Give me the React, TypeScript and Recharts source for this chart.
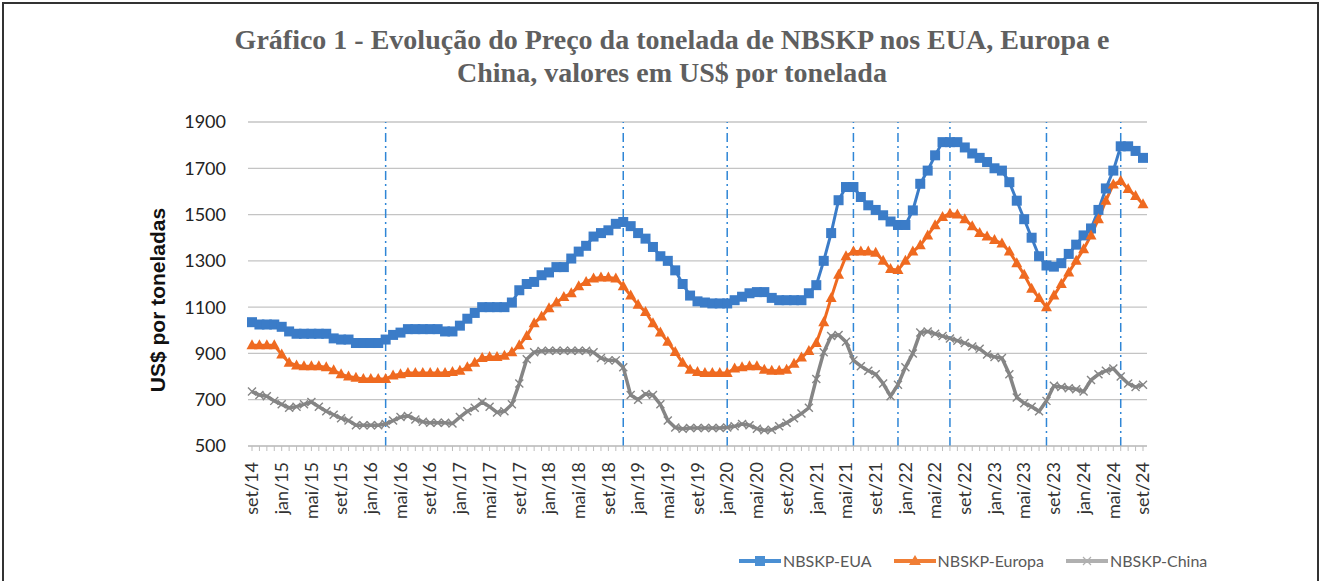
import React from 'react';
import { LineChart, Line, XAxis, YAxis, CartesianGrid, ReferenceLine } from 'recharts';

// meses de set/14 a set/24
const months = [
  'set/14', 'out/14', 'nov/14', 'dez/14',
  'jan/15', 'fev/15', 'mar/15', 'abr/15', 'mai/15', 'jun/15', 'jul/15', 'ago/15', 'set/15', 'out/15', 'nov/15', 'dez/15',
  'jan/16', 'fev/16', 'mar/16', 'abr/16', 'mai/16', 'jun/16', 'jul/16', 'ago/16', 'set/16', 'out/16', 'nov/16', 'dez/16',
  'jan/17', 'fev/17', 'mar/17', 'abr/17', 'mai/17', 'jun/17', 'jul/17', 'ago/17', 'set/17', 'out/17', 'nov/17', 'dez/17',
  'jan/18', 'fev/18', 'mar/18', 'abr/18', 'mai/18', 'jun/18', 'jul/18', 'ago/18', 'set/18', 'out/18', 'nov/18', 'dez/18',
  'jan/19', 'fev/19', 'mar/19', 'abr/19', 'mai/19', 'jun/19', 'jul/19', 'ago/19', 'set/19', 'out/19', 'nov/19', 'dez/19',
  'jan/20', 'fev/20', 'mar/20', 'abr/20', 'mai/20', 'jun/20', 'jul/20', 'ago/20', 'set/20', 'out/20', 'nov/20', 'dez/20',
  'jan/21', 'fev/21', 'mar/21', 'abr/21', 'mai/21', 'jun/21', 'jul/21', 'ago/21', 'set/21', 'out/21', 'nov/21', 'dez/21',
  'jan/22', 'fev/22', 'mar/22', 'abr/22', 'mai/22', 'jun/22', 'jul/22', 'ago/22', 'set/22', 'out/22', 'nov/22', 'dez/22',
  'jan/23', 'fev/23', 'mar/23', 'abr/23', 'mai/23', 'jun/23', 'jul/23', 'ago/23', 'set/23', 'out/23', 'nov/23', 'dez/23',
  'jan/24', 'fev/24', 'mar/24', 'abr/24', 'mai/24', 'jun/24', 'jul/24', 'ago/24', 'set/24',
];

const eua = [
  1035, 1025, 1025, 1025,
  1015, 995, 985, 985, 985, 985, 985, 965, 960, 960, 945, 945,
  945, 945, 960, 980, 990, 1005, 1005, 1005, 1005, 1005, 995, 995,
  1020, 1050, 1075, 1100, 1100, 1100, 1100, 1120, 1173, 1200, 1209, 1238,
  1250, 1273, 1273, 1310, 1340, 1365, 1405, 1420, 1432, 1460, 1468, 1450,
  1420, 1396, 1360, 1320, 1300, 1259, 1200, 1150, 1125, 1120, 1116, 1116,
  1116, 1130, 1145, 1160, 1165, 1165, 1140, 1130, 1130, 1130, 1130, 1160,
  1195, 1300, 1420, 1562, 1619, 1619, 1576, 1540, 1520, 1497, 1470, 1455,
  1455, 1518, 1633, 1690, 1756, 1813, 1813, 1813, 1790, 1764, 1745, 1727,
  1700, 1690, 1640, 1560, 1480, 1400, 1320, 1280, 1275, 1290, 1330, 1370,
  1410, 1440, 1520, 1613, 1690, 1795, 1795, 1775, 1745,
];

const europa = [
  935, 935, 935, 935,
  895, 860, 848, 845, 845, 845, 840, 827, 810, 800, 795, 790,
  790, 790, 790, 805, 810, 815, 815, 815, 815, 815, 815, 820,
  825, 840, 860, 880, 885, 885, 890, 905, 935, 975, 1030, 1060,
  1095, 1120, 1144, 1160, 1190, 1209, 1224, 1228, 1228, 1224, 1190, 1150,
  1110, 1079, 1030, 990, 950, 906, 860, 830, 820, 815, 815, 815,
  815, 835, 840, 845, 845, 830, 825, 825, 830, 855, 882, 910,
  945, 1035, 1140, 1240, 1320, 1340, 1340, 1340, 1335, 1300, 1265, 1260,
  1300, 1340, 1367, 1410, 1454, 1490, 1504, 1500, 1480, 1450, 1420, 1405,
  1390, 1375, 1340, 1290, 1240, 1180, 1140, 1100, 1150, 1200, 1250, 1300,
  1350, 1410, 1480, 1560, 1630, 1645, 1610, 1580, 1545,
];

const china = [
  735, 720, 715, 695,
  680, 665, 670, 680, 690, 670, 650, 635, 620, 610, 590, 590,
  590, 590, 595, 610, 625, 630, 615, 605, 600, 600, 600, 597,
  625, 650, 665, 690, 670, 645, 650, 680, 770, 875, 905, 910,
  912, 912, 912, 912, 912, 912, 905, 880, 870, 870, 840, 720,
  700, 725, 720, 680, 610, 580, 575, 578, 578, 578, 578, 578,
  580, 585, 595, 590, 575, 568, 570, 585, 600, 620, 640, 665,
  790, 905, 975, 980, 950, 870, 845, 825, 810, 770, 715, 765,
  840, 900, 990, 995, 985, 975, 965, 955, 945, 930, 920, 895,
  885, 880, 810, 710, 685, 670, 650, 695, 760, 755, 750, 745,
  735, 785, 810, 825, 835, 800, 770, 755, 765,
];

const yTicks = [500, 700, 900, 1100, 1300, 1500, 1700, 1900];
const refMonths = ['mar/16', 'nov/18', 'jan/20', 'jun/21', 'dez/21', 'jul/22', 'ago/23', 'jun/24'];

const BLUE = '#3b7cc8';
const ORANGE = '#ef6a20';
const GRAY = '#858585';

const data = months.map((m, i) => ({ month: m, eua: eua[i], europa: europa[i], china: china[i] }));

const SquareDot = (p: any) => {
  if (p.cx == null || p.cy == null) return <g key={`s${p.index}`} />;
  return <rect key={`s${p.index}`} x={p.cx - 5} y={p.cy - 5} width={10} height={10} fill={BLUE} />;
};

const TriangleDot = (p: any) => {
  if (p.cx == null || p.cy == null) return <g key={`t${p.index}`} />;
  const { cx, cy } = p;
  return (
    <polygon
      key={`t${p.index}`}
      points={`${cx},${cy - 6} ${cx + 5.5},${cy + 4} ${cx - 5.5},${cy + 4}`}
      fill={ORANGE}
    />
  );
};

const CrossDot = (p: any) => {
  if (p.cx == null || p.cy == null) return <g key={`c${p.index}`} />;
  const { cx, cy } = p;
  return (
    <path
      key={`c${p.index}`}
      d={`M${cx - 4},${cy - 4}L${cx + 4},${cy + 4}M${cx + 4},${cy - 4}L${cx - 4},${cy + 4}`}
      stroke={GRAY}
      strokeWidth={1.4}
      fill="none"
    />
  );
};

const MonthTick = (props: any) => {
  const { x, y, payload } = props;
  const idx = months.indexOf(payload.value);
  if (idx % 4 !== 0) return <g />;
  return (
    <text
      x={x}
      y={y + 9}
      transform={`rotate(-90, ${x}, ${y + 9})`}
      textAnchor="end"
      dy="0.35em"
      fill="#333"
      fontSize={18}
      fontFamily="Lato, sans-serif"
    >
      {payload.value}
    </text>
  );
};

const legendItems = [
  { name: 'NBSKP-EUA', color: '#4a8fd3', shape: 'square' },
  { name: 'NBSKP-Europa', color: '#f07e35', shape: 'triangle' },
  { name: 'NBSKP-China', color: '#b0b0b0', shape: 'cross' },
];

const LegendIcon = ({ color, shape }: { color: string; shape: string }) => (
  <svg width={42} height={14} style={{ display: 'block' }}>
    <line x1={0} y1={7} x2={42} y2={7} stroke={color} strokeWidth={4} />
    {shape === 'square' && <rect x={16} y={2} width={10} height={10} fill={color} />}
    {shape === 'triangle' && <polygon points="21,1 27,11 15,11" fill={color} />}
    {shape === 'cross' && (
      <path d="M17,3L25,11M25,3L17,11" stroke={color} strokeWidth={1.2} fill="none" />
    )}
  </svg>
);

export default function App() {
  return (
    <div
      style={{
        position: 'absolute',
        left: 0,
        top: 0,
        width: 1319,
        height: 581,
        background: '#fff',
        overflow: 'hidden',
      }}
    >
      {/* moldura */}
      <div
        style={{
          position: 'absolute',
          left: 2,
          top: 2,
          width: 1313,
          height: 600,
          borderTop: '2px solid #333',
          borderLeft: '2px solid #333',
          borderRight: '2px solid #333',
        }}
      />
      <div
        style={{
          position: 'absolute',
          left: 0,
          top: 23,
          width: 1344,
          textAlign: 'center',
          fontFamily: '"Liberation Serif", serif',
          fontWeight: 'bold',
          fontSize: 28,
          lineHeight: '33px',
          color: '#5f5f5f',
        }}
      >
        Gráfico 1 - Evolução do Preço da tonelada de NBSKP nos EUA, Europa e
        <br />
        China, valores em US$ por tonelada
      </div>
      <div
        style={{
          position: 'absolute',
          left: 158,
          top: 300,
          transform: 'translate(-50%, -50%) rotate(-90deg)',
          whiteSpace: 'nowrap',
          fontFamily: '"Liberation Sans", Arial, sans-serif',
          fontWeight: 'bold',
          fontSize: 21,
          color: '#111',
        }}
      >
        US$ por toneladas
      </div>
      <div style={{ position: 'absolute', left: 0, top: 0 }}>
        <LineChart
          width={1319}
          height={581}
          data={data}
          margin={{ top: 122, right: 172, left: 0, bottom: 0 }}
        >
          <CartesianGrid vertical={false} stroke="#c4c4c4" strokeWidth={1.3} />
          <XAxis
            dataKey="month"
            interval={0}
            padding={{ left: 4, right: 4 }}
            height={135}
            stroke="#bdbdbd"
            tickSize={5}
            tick={<MonthTick />}
          />
          <YAxis
            width={248}
            domain={[500, 1900]}
            ticks={yTicks}
            axisLine={false}
            tickLine={false}
            tickMargin={16}
            tick={{ fill: '#222', fontSize: 18, fontFamily: 'Lato, sans-serif' }}
          />
          {refMonths.map((m) => (
            <ReferenceLine
              key={m}
              x={m}
              stroke="#2f86d6"
              strokeWidth={1.5}
              strokeDasharray="9 4 2 4"
            />
          ))}
          <Line
            type="linear"
            dataKey="eua"
            name="NBSKP-EUA"
            stroke={BLUE}
            strokeWidth={3}
            dot={SquareDot}
            isAnimationActive={false}
          />
          <Line
            type="linear"
            dataKey="europa"
            name="NBSKP-Europa"
            stroke={ORANGE}
            strokeWidth={3}
            dot={TriangleDot}
            isAnimationActive={false}
          />
          <Line
            type="linear"
            dataKey="china"
            name="NBSKP-China"
            stroke={GRAY}
            strokeWidth={3.5}
            dot={CrossDot}
            isAnimationActive={false}
          />
        </LineChart>
      </div>
      <div
        style={{
          position: 'absolute',
          left: 739,
          top: 551,
          display: 'flex',
          alignItems: 'center',
          fontFamily: 'Lato, sans-serif',
          fontSize: 16,
          color: '#595959',
        }}
      >
        {legendItems.map((it, i) => (
          <div
            key={it.name}
            style={{ display: 'flex', alignItems: 'center', marginRight: i < 2 ? 22 : 0 }}
          >
            <LegendIcon color={it.color} shape={it.shape} />
            <span style={{ marginLeft: 2 }}>{it.name}</span>
          </div>
        ))}
      </div>
    </div>
  );
}
